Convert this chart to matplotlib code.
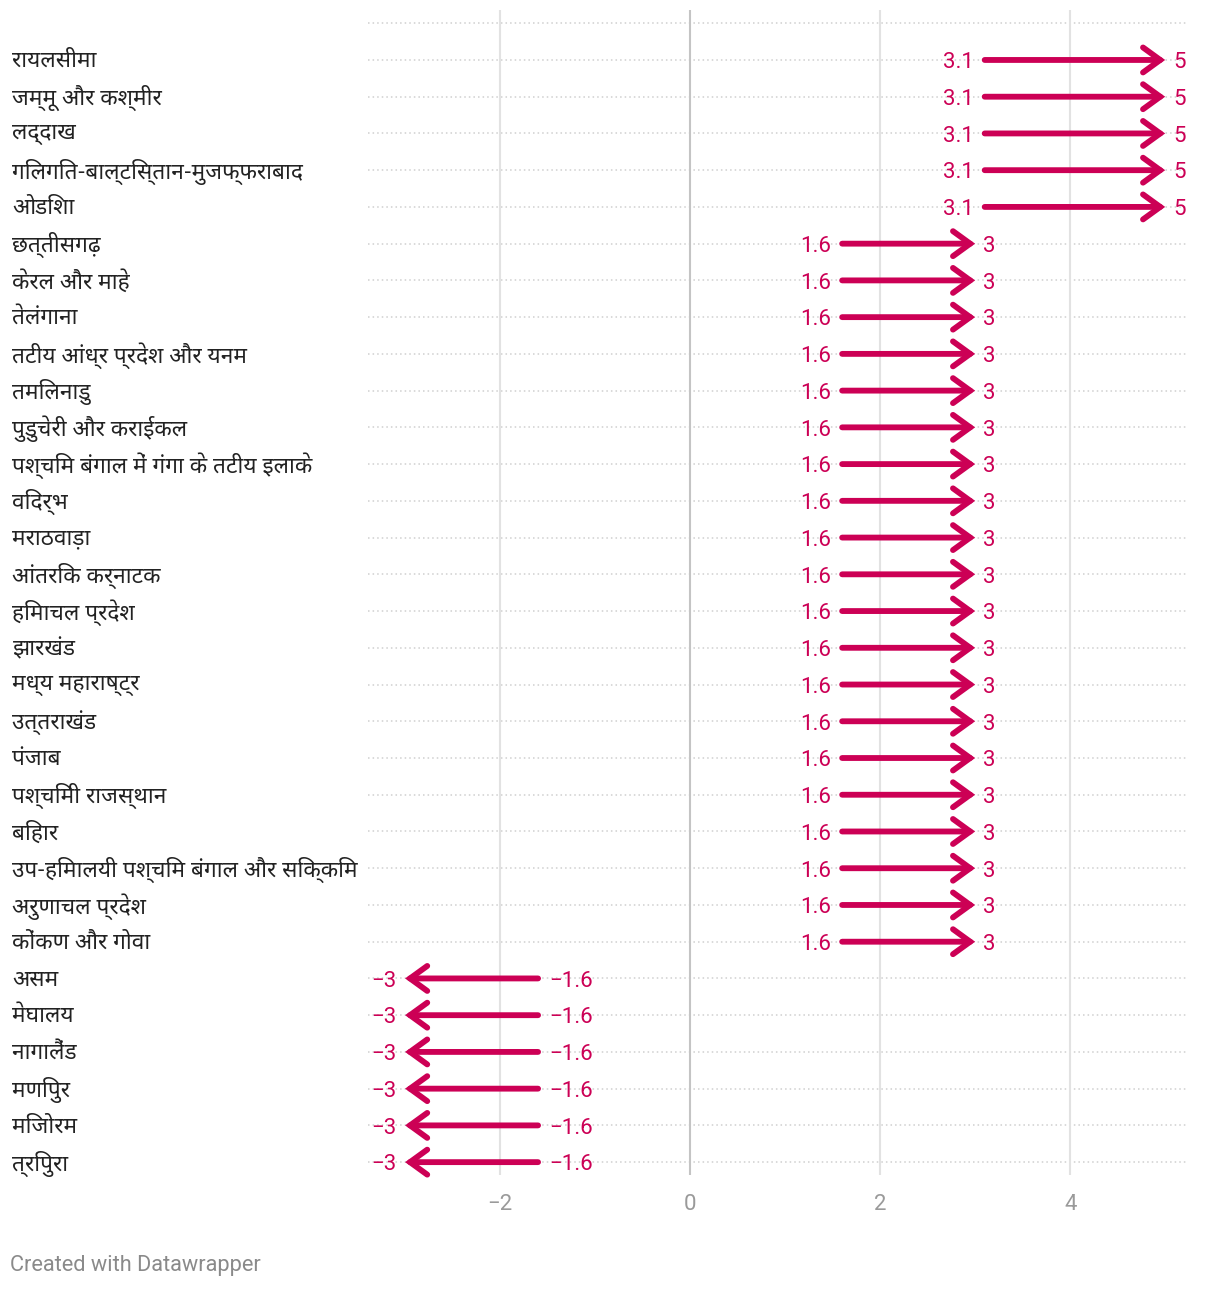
import matplotlib
matplotlib.use("Agg")
import matplotlib.pyplot as plt
from matplotlib import font_manager

# rows, top to bottom
regions = [
    "रायलसीमा", "जम्मू और कश्मीर", "लद्दाख", "गिलगित-बाल्टिस्तान-मुजफ्फराबाद",
    "ओडिशा", "छत्तीसगढ़", "केरल और माहे", "तेलंगाना", "तटीय आंध्र प्रदेश और यनम",
    "तमिलनाडु", "पुडुचेरी और कराईकल", "पश्चिम बंगाल में गंगा के तटीय इलाके",
    "विदर्भ", "मराठवाड़ा", "आंतरिक कर्नाटक", "हिमाचल प्रदेश", "झारखंड",
    "मध्य महाराष्ट्र", "उत्तराखंड", "पंजाब", "पश्चिमी राजस्थान", "बिहार",
    "उप-हिमालयी पश्चिम बंगाल और सिक्किम", "अरुणाचल प्रदेश", "कोंकण और गोवा",
    "असम", "मेघालय", "नागालैंड", "मणिपुर", "मिजोरम", "त्रिपुरा",
]
start = [3.1] * 5 + [1.6] * 20 + [-1.6] * 6
end = [5] * 5 + [3] * 20 + [-3] * 6
xticks = [-2, 0, 2, 4]

RED = "#cc0055"

installed = {f.name for f in font_manager.fontManager.ttflist}
DEV = next((n for n in ["Noto Sans Devanagari", "Lohit Devanagari", "Hind",
                        "Mukta", "FreeSans"] if n in installed), "DejaVu Sans")
plt.rcParams["font.family"] = ["Roboto", DEV, "DejaVu Sans"]


def fmt(v):
    return f"{v:g}".replace("-", "\u2212")


fig = plt.figure(figsize=(12.2, 12.92), dpi=100)
ax = fig.add_axes([368 / 1220, 1 - 1175 / 1292, 820 / 1220, 1165 / 1292])
ax.set_xlim(-3.39, 5.24)
ax.set_ylim(30.35, -1.36)
for s in ax.spines.values():
    s.set_visible(False)

rows = list(range(len(regions)))
ax.hlines([-1] + rows, -3.39, 5.24, colors="#cfcfcf", linestyles=(0, (1, 2)),
          lw=1.1, zorder=1)
for t in xticks:
    ax.axvline(t, color="#c4c4c4" if t == 0 else "#e2e2e2", lw=1.5, zorder=1)

for y, a, b in zip(rows, start, end):
    ax.annotate("", xy=(b, y), xytext=(a, y),
                arrowprops=dict(arrowstyle="->,head_length=0.62,head_width=0.45",
                                mutation_scale=20, lw=4.2, color=RED,
                                shrinkA=0, shrinkB=0, capstyle="round",
                                joinstyle="miter"),
                zorder=3)
    right = b > a
    ax.annotate(fmt(a), (a, y), xytext=(-8 if right else 8, -2),
                textcoords="offset points", ha="right" if right else "left",
                va="center", fontsize=16, color=RED, zorder=4)
    ax.annotate(fmt(b), (b, y), xytext=(6 if right else -6, -2),
                textcoords="offset points", ha="left" if right else "right",
                va="center", fontsize=16, color=RED, zorder=4)

ax.set_yticks([])
ax.set_xticks(xticks)
ax.set_xticklabels([fmt(t) for t in xticks], fontsize=16, color="#9a9a9a")
ax.tick_params(axis="x", length=0, pad=14)

for y, name in zip(rows, regions):
    ax.annotate(name, (0, y), xycoords=("figure fraction", "data"),
                xytext=(9, -1), textcoords="offset points", ha="left",
                va="center", fontsize=16.3, color="#222222",
                family=[DEV, "DejaVu Sans"], annotation_clip=False)

fig.text(10 / 1220, 1 - 1266 / 1292, "Created with Datawrapper", fontsize=15.7,
         color="#8a8a8a", va="center", ha="left")

fig.savefig("out.png", dpi=100, facecolor="white")
